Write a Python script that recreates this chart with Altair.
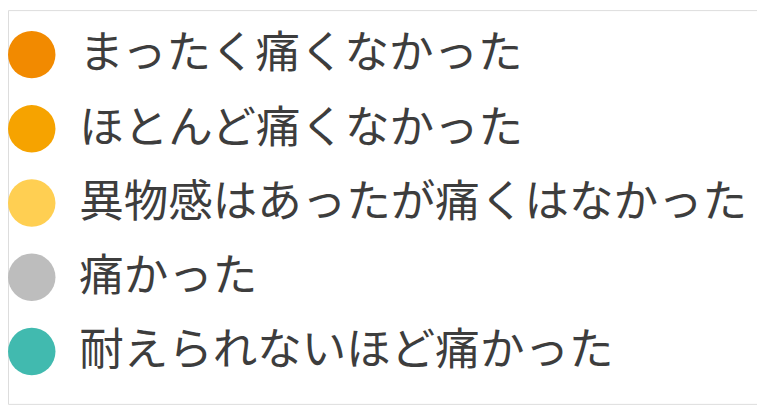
import altair as alt
import pandas as pd

labels = [
    "まったく痛くなかった",
    "ほとんど痛くなかった",
    "異物感はあったが痛くはなかった",
    "痛かった",
    "耐えられないほど痛かった",
]
colors = ["#F28A00", "#F6A300", "#FFCF52", "#BDBDBD", "#41BAAF"]

df = pd.DataFrame({"label": labels, "color": colors})

yscale = alt.Scale(type="point", domain=labels, range=[45, 345], padding=0)

circles = alt.Chart(df).mark_circle(size=2300, opacity=1).encode(
    x=alt.value(24),
    y=alt.Y("label:N", scale=yscale, axis=None),
    color=alt.Color("color:N", scale=None),
)

texts = alt.Chart(df).mark_text(
    align="left", baseline="middle", fontSize=45,
    font="Noto Sans CJK JP", color="#3d3d3d",
).encode(
    x=alt.value(72),
    y=alt.Y("label:N", scale=yscale, axis=None),
    text="label:N",
)

chart = alt.layer(circles, texts).properties(
    width=757, height=398, padding=0,
    autosize=alt.AutoSizeParams(type="none"),
).configure_view(stroke=None).configure(background="white")

chart.save("out.html", embed_options={"renderer": "svg", "actions": False})
